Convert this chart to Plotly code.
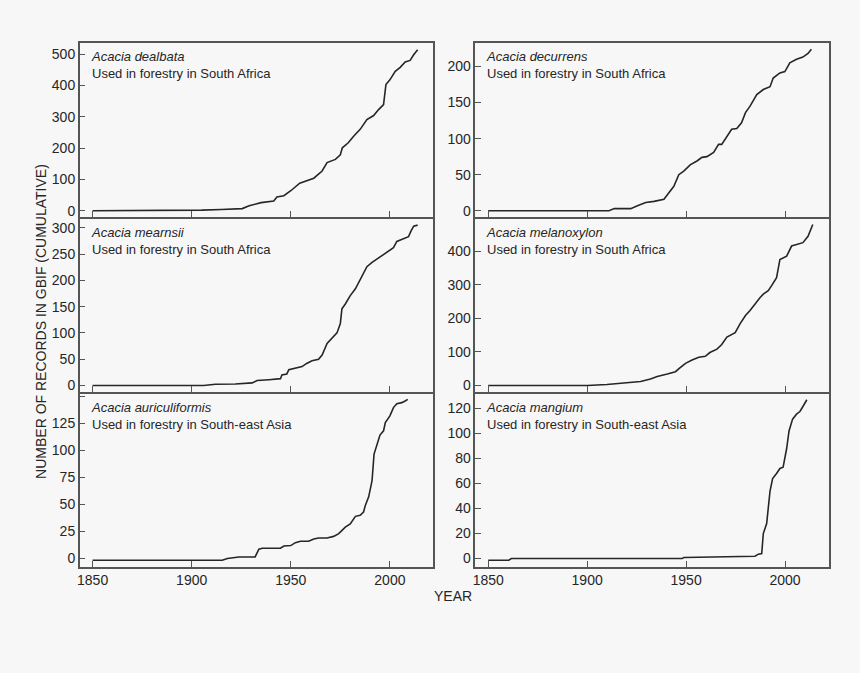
"""Cumulative GBIF records of six forestry Acacia species, 3x2 panels."""
import plotly.graph_objects as go
from plotly.subplots import make_subplots

# --- data (year, cumulative records) ---
dealbata_year = [1850, 1900, 1905, 1915, 1925.5, 1929, 1935, 1941.4, 1943, 1946.5, 1950,
                 1954.5, 1959, 1961.6, 1965.8, 1968.3, 1972.5, 1975, 1976, 1979, 1981.7,
                 1985, 1988.4, 1991.8, 1994.3, 1996.8, 1998, 2000, 2002.7, 2005.2, 2007.7,
                 2010.2, 2012, 2014]
dealbata_n = [0, 0, 2, 4, 7, 16, 26, 31, 44, 48, 64, 88, 98, 104, 127, 154, 164, 179, 201,
              217, 238, 260, 291, 304, 323, 339, 403, 418, 445, 458, 475, 480, 498, 514]

decurrens_year = [1850, 1911, 1913.7, 1922, 1925.4, 1929.6, 1933.8, 1938.8, 1941.3, 1943.8,
                  1946.3, 1948.8, 1952.2, 1955.5, 1958, 1960.5, 1963.9, 1966.4, 1968, 1970.6,
                  1973, 1975.6, 1978, 1980, 1982.3, 1985.7, 1989, 1992.4, 1994, 1997.4,
                  1999.9, 2002.4, 2005.8, 2009, 2011.6, 2013.3]
decurrens_n = [0, 0, 3, 3, 7, 11.5, 13, 16, 25, 34, 50, 55, 64, 69, 74, 75, 81, 92, 92, 103,
               113, 114, 122, 136, 145, 161, 168, 172, 184, 191, 193, 205, 210, 213, 218, 224]

mearnsii_year = [1850, 1906, 1912, 1922, 1930.5, 1933, 1939, 1944.8, 1945.5, 1948, 1949,
                 1952.3, 1955.7, 1958, 1960.7, 1964, 1965.8, 1968.3, 1970.8, 1973.3, 1975,
                 1975.8, 1977.5, 1980, 1982.6, 1985.9, 1988.4, 1991, 1993.4, 1996, 1999.3,
                 2001.8, 2003.5, 2006.9, 2009.4, 2010.7, 2012, 2014]
mearnsii_n = [0, 0, 2.5, 3, 5, 9.4, 11, 13, 20, 22, 30, 33, 36, 42, 47, 50, 58, 80, 91, 100,
              118, 146, 155, 171, 184, 209, 226, 234, 240, 248, 256, 262, 274, 279, 283, 294,
              303, 305]

melanoxylon_year = [1850, 1900, 1910, 1920, 1927, 1932, 1935.4, 1940.5, 1944.6, 1947, 1949.7,
                    1953, 1956.4, 1959.7, 1962, 1965.6, 1968, 1970.6, 1974.8, 1977.3, 1980,
                    1982.3, 1984.8, 1987.4, 1989, 1991.5, 1993.2, 1995.7, 1997.4, 2000.8,
                    2003.3, 2005.8, 2009, 2011.6, 2014]
melanoxylon_n = [0, 0, 3, 7, 12, 19, 27, 34, 41, 53, 66, 76, 84, 87, 98, 108, 122, 144, 157,
                 184, 208, 223, 243, 262, 272, 282, 297, 321, 375, 385, 415, 420, 425, 444, 479]

auriculiformis_year = [1850, 1915.4, 1918, 1922, 1923.8, 1932, 1933.9, 1935.6, 1944.8, 1946.5,
                       1950, 1952.3, 1954.9, 1959, 1961.6, 1964, 1968.3, 1971.6, 1974.2,
                       1977.5, 1980, 1982.6, 1985, 1986.7, 1987.6, 1989.3, 1991, 1992,
                       1993.5, 1995, 1996.8, 1997.7, 2000, 2001.8, 2003.5, 2006, 2007.7, 2009]
auriculiformis_n = [-1.5, -1.5, 0, 1, 1.5, 1.5, 8.6, 9.5, 9.5, 11.6, 12, 14.7, 16, 16, 18, 19,
                    19, 20.5, 23, 29, 32, 39, 40, 43, 49, 57, 72, 96.5, 106, 114, 118, 125.6,
                    131.7, 139.4, 143, 144, 145.5, 147]

mangium_year = [1850, 1860.4, 1861.7, 1948, 1948.8, 1979, 1984.8, 1986.5, 1988.2, 1989,
                1990.7, 1992.4, 1993.7, 1995.7, 1997.4, 1999, 2000.8, 2002, 2003.8, 2005.8,
                2007.5, 2008.8, 2010, 2011]
mangium_n = [-1.3, -1.3, 0, 0, 0.8, 1.9, 1.9, 3.5, 4, 20, 28, 54, 64, 68, 72, 73, 88, 102,
             111.5, 115.5, 117.6, 121, 125, 127]

species = ["Acacia dealbata", "Acacia decurrens", "Acacia mearnsii",
           "Acacia melanoxylon", "Acacia auriculiformis", "Acacia mangium"]
regions = ["South Africa", "South Africa", "South Africa",
           "South Africa", "South-east Asia", "South-east Asia"]
years = [dealbata_year, decurrens_year, mearnsii_year,
         melanoxylon_year, auriculiformis_year, mangium_year]
counts = [dealbata_n, decurrens_n, mearnsii_n, melanoxylon_n, auriculiformis_n, mangium_n]

y_ranges = [(-20, 536), (-8.7, 232.7), (-12.6, 317.5),
            (-19.8, 496.8), (-7.6, 152.3), (-6.6, 131.9)]
y_ticks = [list(range(0, 501, 100)), list(range(0, 201, 50)), list(range(0, 301, 50)),
           list(range(0, 401, 100)), list(range(0, 151, 25)), list(range(0, 121, 20))]
x_ticks = [1850, 1900, 1950, 2000]

BG = "#f7f7f7"
INK = "#262626"
FRAME = "#555555"
FONT = "Liberation Sans, Arial, sans-serif"
LW = 1.5

W, H = 860, 673
col_px = [(77, 432), (474, 828.5)]
# rows leave a gap of one line width so the shared frame lines coincide
row_px = [(43, 217.7), (219.2, 393.3), (394.8, 568.5)]

fig = make_subplots(rows=3, cols=2, horizontal_spacing=0.05, vertical_spacing=0)

for i in range(6):
    r, c = i // 2 + 1, i % 2 + 1
    fig.add_trace(go.Scatter(
        x=years[i], y=counts[i], mode="lines",
        line=dict(color=INK, width=1.6), showlegend=False,
        hovertemplate="%{x:.0f}: %{y:.0f}<extra></extra>",
    ), row=r, col=c)

    x0, x1 = col_px[c - 1]
    y0, y1 = row_px[r - 1]
    ticktext = [str(v) for v in y_ticks[i]]
    if i == 4:
        ticktext[-1] = ""  # top tick has no label in the original
    fig.update_xaxes(
        domain=[x0 / W, x1 / W], range=[1843.5, 2022],
        tickvals=x_ticks, showticklabels=(r == 3),
        ticks="inside", ticklen=6, tickcolor=FRAME, tickwidth=1.2,
        showline=True, mirror=True, linecolor=FRAME, linewidth=LW,
        showgrid=False, zeroline=False,
        row=r, col=c,
    )
    fig.update_yaxes(
        domain=[1 - y1 / H, 1 - y0 / H], range=list(y_ranges[i]),
        tickvals=y_ticks[i], ticktext=ticktext,
        ticks="inside", ticklen=6, tickcolor=FRAME, tickwidth=1.2,
        showline=True, mirror=True, linecolor=FRAME, linewidth=LW,
        showgrid=False, zeroline=False,
        row=r, col=c,
    )

    ax = "" if i == 0 else str(i + 1)
    fig.add_annotation(
        x=1850, xref=f"x{ax}", y=1, yref=f"y{ax} domain",
        xanchor="left", yanchor="top", xshift=-4, yshift=-4, align="left",
        showarrow=False,
        text=f"<i>{species[i]}</i><br>Used in forestry in {regions[i]}",
        font=dict(size=13, color=INK, family=FONT),
    )

fig.add_annotation(
    x=38 / W, y=1 - 322 / H, xref="paper", yref="paper",
    xanchor="center", yanchor="middle",
    text="NUMBER OF RECORDS IN GBIF (CUMULATIVE)", textangle=-90,
    showarrow=False, font=dict(size=14, color=INK, family=FONT),
)
fig.add_annotation(
    x=452 / W, y=1 - 598 / H, xref="paper", yref="paper",
    xanchor="center", yanchor="middle",
    text="YEAR", showarrow=False, font=dict(size=14, color=INK, family=FONT),
)

fig.update_layout(
    width=W, height=H,
    margin=dict(l=0, r=0, t=0, b=0),
    paper_bgcolor=BG, plot_bgcolor=BG,
    font=dict(family=FONT, size=14, color=INK),
)

fig.write_html("out.html", config={"displayModeBar": False},
               post_script="document.body.style.margin='0';")
